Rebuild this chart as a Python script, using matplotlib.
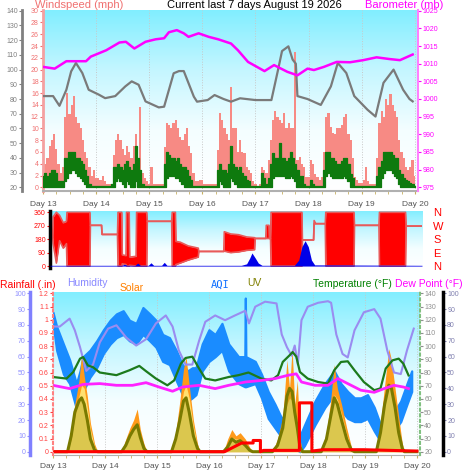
import numpy as np
import matplotlib
matplotlib.use('Agg')
import matplotlib.pyplot as plt
from matplotlib.colors import LinearSegmentedColormap
from matplotlib.ticker import MultipleLocator

plt.rcParams['font.family'] = ['Liberation Sans', 'DejaVu Sans']

# ---------------- data ----------------
days = [13, 14, 15, 16, 17, 18, 19, 20]
day_labels = ['Day 13', 'Day 14', 'Day 15', 'Day 16', 'Day 17', 'Day 18', 'Day 19', 'Day 20']

# top panel: hourly wind samples (mph), one row per day
wind_t = np.linspace(13, 20, 169)
gust = [3, 4, 5, 7, 8, 9, 6.5, 4, 2.5, 3.5, 12, 16, 12.5, 14, 15.5, 12, 11, 10, 8, 6, 5, 3.5, 2, 3,
        1.5, 1.5, 1.2, 2, 1, 0.5, 0.5, 0.5, 5.5, 8, 9, 8, 6.5, 5.5, 7, 6, 5, 7, 9, 5, 13.7, 2.5, 1.5, 1,
        0.5, 3.5, 0.5, 0.5, 0.5, 0.5, 0.5, 6.8, 11, 10.5, 10, 11, 11.5, 10, 8.5, 8, 9, 10, 7, 5.8, 2.4, 1, 1, 1.2,
        1.2, 0.6, 0.6, 0.6, 0.6, 0.6, 0.6, 6.3, 12.6, 11.5, 10, 9, 8, 17, 10, 10, 6, 8, 6, 5.8, 3.5, 3, 2.4, 1,
        0.5, 0.3, 0.5, 3.5, 3, 2.4, 4.6, 8, 11.4, 13, 12, 11.4, 11, 12.6, 10, 11, 10, 10, 23, 4.6, 5.2, 4, 3.5, 1.8,
        1.8, 4.6, 4, 2.3, 1.8, 1.2, 1.8, 6, 12, 12.6, 10.3, 9.2, 9, 10, 10, 10.5, 12, 12.5, 9, 8, 5, 1.8, 1.2, 0.7,
        0.7, 1.2, 3.5, 1, 0.6, 0.6, 0.6, 5, 10.9, 13, 12, 15, 14, 15.8, 14, 13, 12, 8, 6, 5, 3.5, 2.9, 3.5, 4.6,
        2]
wind_hi = [2, 2.5, 2, 2.5, 3, 3, 2.5, 1, 1, 1, 5, 5, 6, 6, 6, 5, 5, 4.5, 4, 3, 2, 0.5, 0.3, 0.3,
           0.2, 0.2, 0.2, 0.2, 0.2, 0.2, 0.2, 0.5, 3.5, 3.5, 4, 3.5, 3, 4, 4.5, 3.5, 3, 4, 7, 5, 3, 0.5, 0.2, 0.2,
           0.2, 0.2, 0.2, 0.2, 0.2, 0.2, 0.2, 4, 6, 5.5, 5, 5, 4.5, 5, 4, 3.5, 3.5, 3, 2, 1.2, 0.2, 0.2, 0.2, 0.2,
           0.2, 0.2, 0.2, 0.2, 0.2, 0.2, 0.2, 3, 4, 3, 3, 2.5, 4, 7, 4, 3.5, 3, 3.5, 2.5, 2, 1.2, 1, 0.3, 0.2,
           0.2, 0.2, 0.2, 2.4, 1.5, 0.6, 1.5, 4, 5.8, 5, 5, 7.5, 5, 5, 4.5, 5, 6, 5, 4, 3, 2, 2, 0.5, 0.2,
           0.2, 1.2, 0.5, 0.2, 0.2, 0.2, 0.2, 3, 6, 6, 5, 5, 4.5, 4, 4, 4.5, 5, 5, 4, 2.3, 1.5, 0.2, 0.2, 0.2,
           0.2, 0.2, 0.2, 0.2, 0.2, 0.2, 0.2, 2, 3.5, 4.5, 6, 6, 6, 6, 5.5, 5, 5, 3, 2.3, 1.5, 1.2, 1, 0.8, 0.5,
           0.2]
wind_lo = [0, 0, 0, 0, 0, 0, 0, 0, 0, 0, 1, 1.5, 2.5, 3, 3, 2.5, 2, 1.5, 1, 0.5, 0, 0, 0, 0,
           0, 0, 0, 0, 0, 0, 0, 0, 0, 1, 1.5, 1, 0.5, 0, 1, 0.5, 0, 0, 1, 0, 0, 0, 0, 0,
           0, 0, 0, 0, 0, 0, 0, 0, 1.5, 2, 2, 2, 1.5, 1.5, 1, 0.5, 0, 0, 0, 0, 0, 0, 0, 0,
           0, 0, 0, 0, 0, 0, 0, 0, 1, 0.5, 0, 0, 0, 1.5, 1, 0.5, 0, 0, 0, 0, 0, 0, 0, 0,
           0, 0, 0, 0, 0, 0, 0, 0, 1.5, 2, 2, 2, 2, 2, 1.5, 1.5, 2, 1.5, 1, 0, 0, 0, 0, 0,
           0, 0, 0, 0, 0, 0, 0, 0, 2, 2.5, 2, 1.5, 1.5, 1.5, 1.5, 1.5, 2, 1.5, 1, 0, 0, 0, 0, 0,
           0, 0, 0, 0, 0, 0, 0, 0, 0, 1.5, 2.5, 3, 3, 3, 2.5, 2, 1.5, 0.5, 0, 0, 0, 0, 0, 0,
           0]

gray_t = [13.0, 13.19, 13.31, 13.44, 13.53, 13.62, 13.74, 13.86, 14.05, 14.17, 14.36, 14.55,
          14.67, 14.8, 14.93, 15.18, 15.28, 15.46, 15.56, 15.65, 15.84, 15.9, 16.1, 16.23,
          16.4, 16.54, 16.71, 17.0, 17.3, 17.42, 17.5, 17.62, 17.7, 17.76, 17.79, 17.98,
          18.23, 18.42, 18.55, 18.71, 18.86, 19.11, 19.26, 19.41, 19.6, 19.78, 19.9, 19.96]
gray_v = [82, 82, 75.4, 86.3, 98.8, 104.5, 97.7, 86.3, 83, 80.6, 82, 88.6,
          92, 89.7, 78.4, 74.3, 74.8, 97.5, 99, 99, 81.6, 78.2, 79.3, 82.7,
          80, 78.2, 80.5, 79.3, 79.3, 99, 112.6, 115.8, 106.8, 104, 82, 80,
          76, 88.6, 104.5, 97.7, 82, 72.7, 68.1, 91, 100, 86.3, 80, 78.4]

baro_t = [13.0, 13.22, 13.44, 13.81, 13.9, 14.19, 14.44, 14.56, 14.72, 14.93, 15.12, 15.28,
          15.37, 15.52, 15.65, 15.74, 15.93, 16.12, 16.3, 16.54, 16.67, 16.86, 17.17, 17.35,
          17.6, 17.79, 17.98, 18.1, 18.29, 18.53, 18.78, 19.03, 19.28, 19.53, 19.72, 19.96]
baro = [1009.1, 1008.6, 1010.7, 1010.7, 1012, 1013.8, 1016, 1016.2, 1014.3, 1016.2, 1016.9, 1017.2,
        1018.9, 1019.5, 1018.6, 1017.6, 1018.6, 1017.6, 1016.9, 1015.7, 1013.8, 1010.5, 1007.9, 1009.6,
        1007.7, 1006.7, 1008.6, 1008.2, 1009.1, 1010.5, 1010.4, 1011, 1011.8, 1011.3, 1011, 1012.6]

# middle panel: wind direction envelope (degrees)
dir_t = [13.00, 13.05, 13.06, 13.12, 13.18, 13.25, 13.31, 13.32, 13.75, 13.76, 13.97, 13.98,
         14.27, 14.28, 14.35, 14.36, 14.43, 14.44, 14.49, 14.50, 14.62, 14.63, 14.82, 14.83,
         15.29, 15.30, 15.36, 15.37, 15.45, 15.60, 15.79, 15.80, 16.27, 16.28, 16.40, 16.55,
         16.70, 16.85, 16.86, 17.06, 17.07, 17.12, 17.13, 17.15, 17.16, 17.74, 17.75, 17.96,
         17.97, 18.00, 18.18, 18.19, 18.72, 18.73, 19.19, 19.20, 19.69, 19.70, 20.0]
dir_lo = [196, 196, 150, 20, 170, 120, 150, 0, 0, 273, 273, 212,
          212, 0, 0, 15, 10, 0, 0, 5, 0, 0, 0, 300,
          300, 0, 0, 10, 20, 40, 60, 98, 98, 100, 90, 95,
          105, 110, 185, 185, 185, 185, 185, 185, 0, 0, 175, 175,
          284, 284, 284, 0, 0, 273, 273, 0, 0, 268, 268]
dir_hi = [196, 196, 330, 360, 340, 290, 300, 360, 360, 273, 273, 212,
          212, 360, 360, 75, 70, 360, 360, 60, 65, 360, 360, 300,
          300, 360, 360, 165, 160, 135, 120, 98, 98, 230, 215, 210,
          195, 190, 185, 185, 273, 273, 185, 185, 360, 360, 175, 175,
          305, 284, 284, 360, 360, 273, 273, 360, 360, 268, 268]
mblue_t = [13.0, 14.35, 14.4, 14.45, 14.6, 14.65, 14.7, 14.85, 14.9, 14.95, 15.1, 15.15, 15.2,
           16.6, 16.7, 16.76, 16.8, 16.86, 16.92, 16.99, 17.6, 17.68, 17.74, 17.8, 17.86, 17.92,
           17.98, 20.0]
mblue = [5, 5, 12, 5, 5, 20, 5, 5, 22, 5, 5, 25, 5,
         5, 15, 55, 88, 55, 20, 5, 5, 40, 130, 170, 130, 40,
         8, 5]
compass = ['N', 'E', 'S', 'W', 'N']

# bottom panel
hum_t = [13.0, 13.13, 13.32, 13.42, 13.52, 13.64, 13.77, 13.9, 14.06, 14.22, 14.41, 14.6,
         14.79, 14.98, 15.17, 15.3, 15.42, 15.55, 15.68, 15.81, 15.93, 16.12, 16.31, 16.5,
         16.7, 16.77, 16.89, 17.08, 17.3, 17.4, 17.5, 17.59, 17.65, 17.71, 17.78, 17.9,
         18.1, 18.29, 18.35, 18.45, 18.57, 18.67, 18.8, 18.98, 19.18, 19.3, 19.43, 19.56,
         19.69, 19.81, 19.94]
hum = [79, 79, 84, 76.6, 66, 51, 55, 69, 77.7, 79.8, 72, 67,
       71, 81, 86, 79, 64, 55, 55, 70, 82, 86, 83, 86,
       89, 81, 91.5, 94.7, 93.6, 74, 66, 60.6, 67, 55, 83, 91.5,
       94, 95, 94, 74, 61.7, 59.5, 76.6, 88, 90, 84, 64, 50,
       49, 64, 77.7]

temp_t = [13.0, 13.26, 13.39, 13.52, 13.58, 13.67, 13.77, 13.9, 14.22, 14.47, 14.66, 14.79,
          14.98, 15.2, 15.33, 15.46, 15.55, 15.68, 15.81, 15.93, 16.12, 16.38, 16.57, 16.76,
          17.01, 17.2, 17.33, 17.42, 17.55, 17.61, 17.68, 17.75, 17.9, 18.1, 18.29, 18.41,
          18.54, 18.67, 18.8, 18.98, 19.18, 19.3, 19.4, 19.53, 19.65, 19.74, 19.84]
temp = [76.6, 75.4, 80.4, 90.5, 91.7, 85.4, 84, 80, 78, 81.7, 85, 81,
        75.4, 70.3, 74, 86.7, 91, 92, 83, 75.4, 74, 76.6, 78, 80,
        75.4, 74, 78, 88, 93, 95.5, 92, 80.4, 75.4, 72.8, 71.6, 81.7,
        88, 88.5, 81.7, 72.8, 66.6, 68, 83, 89.2, 90.5, 86.7, 77.8]

dew_t = [13.0, 13.32, 13.58, 13.9, 14.22, 14.53, 14.79, 15.04, 15.3, 15.49, 15.81, 16.12,
         16.38, 16.7, 17.01, 17.27, 17.52, 17.68, 17.78, 18.04, 18.29, 18.48, 18.67, 18.92,
         19.18, 19.37, 19.56, 19.74, 19.84]
dew = [70.3, 67.8, 71, 71.6, 70.3, 70.3, 72.3, 69, 65.8, 69, 70.3, 67.8,
       70.3, 72.8, 74, 75.4, 77.9, 79, 72.8, 70.3, 70.3, 75.4, 71.6, 66.6,
       65, 67.8, 70.3, 69, 67.8]

aqi_t = [13.0, 13.07, 13.2, 13.32, 13.45, 13.52, 13.58, 13.71, 13.84, 13.97, 14.1, 14.22,
         14.35, 14.47, 14.6, 14.73, 14.86, 14.98, 15.11, 15.24, 15.37, 15.49, 15.59, 15.68,
         15.75, 15.87, 16.0, 16.12, 16.25, 16.38, 16.57, 16.69, 16.7, 16.71, 16.89, 17.01,
         17.14, 17.27, 17.4, 17.52, 17.65, 17.75, 17.84, 18.04, 18.23, 18.41, 18.54, 18.67,
         18.8, 18.92, 19.05, 19.18, 19.3, 19.43, 19.56, 19.69, 19.81, 19.9]
aqi_hi = [88, 79, 68, 58, 43, 51, 60, 64, 70, 77, 83, 87,
          89, 83, 81, 91, 87, 83, 74, 72, 64, 55, 51, 53,
          53, 68, 77, 74, 81, 68, 60, 60, 97, 60, 57, 49,
          38, 30, 21, 25, 15, 10, 17, 32, 43, 51, 43, 38,
          34, 34, 36, 28, 17, 19, 25, 32, 43, 51]
aqi_lo = [81, 64, 49, 43, 27, 30, 38, 47, 53, 62, 68, 72,
          74, 70, 68, 74, 70, 66, 57, 55, 45, 36, 32, 34,
          36, 51, 57, 60, 64, 51, 43, 41, 41, 41, 43, 34,
          21, 15, 9, 13, 2, 0, 4, 17, 28, 36, 26, 21,
          19, 19, 21, 13, 6.6, 9, 13, 19, 30, 38]

sol_t = [13.0, 13.28, 13.35, 13.42, 13.5, 13.55, 13.6, 13.66, 13.72, 13.8, 13.86,
         14.32, 14.4, 14.48, 14.55, 14.62, 14.68, 14.75, 14.81,
         15.28, 15.36, 15.44, 15.51, 15.56, 15.62, 15.7, 15.78, 15.83,
         16.28, 16.36, 16.44, 16.52, 16.6, 16.7, 16.78, 16.84,
         17.22, 17.32, 17.42, 17.5, 17.55, 17.6, 17.65, 17.7, 17.75, 17.8,
         18.16, 18.26, 18.34, 18.41, 18.47, 18.55, 18.65, 18.74, 18.8,
         19.22, 19.3, 19.38, 19.46, 19.51, 19.58, 19.65, 19.72, 19.76, 20.0]
solar_max = [0, 0, 12, 30, 45, 62, 48, 35, 18, 5, 0,
             0, 8, 15, 20, 27, 14, 5, 0,
             0, 12, 32, 52, 60, 42, 20, 5, 0,
             0, 8, 14, 10, 12, 8, 3, 0,
             0, 8, 22, 58, 40, 65, 30, 45, 8, 0,
             0, 12, 32, 55, 40, 30, 15, 3, 0,
             0, 18, 42, 65, 58, 40, 22, 5, 0, 0]
solar = [0, 0, 8, 22, 35, 42, 40, 28, 14, 3, 0,
         0, 5, 10, 14, 17, 10, 3, 0,
         0, 8, 24, 38, 42, 34, 16, 3, 0,
         0, 5, 9, 8, 8, 5, 2, 0,
         0, 5, 15, 30, 34, 32, 25, 18, 4, 0,
         0, 8, 24, 36, 33, 24, 11, 2, 0,
         0, 12, 30, 42, 40, 30, 15, 3, 0, 0]
uv = [0, 0, 10, 25, 32, 34, 30, 20, 8, 1, 0,
      0, 4, 10, 14, 17, 9, 2, 0,
      0, 8, 20, 32, 34, 25, 10, 2, 0,
      0, 3, 8, 6, 7, 4, 1, 0,
      0, 4, 15, 35, 40, 38, 25, 15, 3, 0,
      0, 8, 22, 34, 30, 20, 8, 1, 0,
      0, 12, 30, 42, 40, 28, 12, 2, 0, 0]

rain_t = [13.0, 16.3, 16.63, 16.85, 16.85, 16.99, 16.99, 17.05, 17.74, 17.74, 17.98, 17.98,
          18.2, 18.98, 20.0]
rain = [0, 0, 0.066, 0.066, 0.085, 0.085, 0.0, 0.01, 0.01, 0.37, 0.37, 0.005,
        0.015, 0.015, 0.005]

# ---------------- figure ----------------
W, H = 466, 473
PT = 72 / 100   # points per pixel
fig = plt.figure(figsize=(W / 100, H / 100), dpi=100)
fig.patch.set_facecolor('white')


def box(l, t, r, b):
    return fig.add_axes([l / W, 1 - b / H, (r - l) / W, (b - t) / H])


sky = LinearSegmentedColormap.from_list('sky', ['#ffffff', '#f4feff', '#c4f6ff', '#80eeff'])


def backdrop(ax):
    ax.imshow(np.linspace(0, 1, 256).reshape(-1, 1), cmap=sky, origin='lower', aspect='auto',
              extent=[0, 1, 0, 1], transform=ax.transAxes, zorder=0)


def only_spines(ax, keep):
    for s in ['left', 'right', 'top', 'bottom']:
        ax.spines[s].set_visible(s in keep)


# ---- top panel ----
ax = box(43, 10, 418, 191)
backdrop(ax)
for d in days:
    ax.axvline(d, color='#c8c8c8', ls=':', lw=0.7, zorder=1)
ax.fill_between(wind_t, wind_lo, gust, step='mid', color='#f78a84', lw=0, zorder=2)
ax.fill_between(wind_t, wind_lo, wind_hi, step='mid', color='#0e7a0e', lw=0.9,
                edgecolor='#0e7a0e', zorder=3)
ax_o = ax.twinx()
ax_o.plot(gray_t, gray_v, color='#7a7a7a', lw=1.6)
ax_b = ax.twinx()
ax_b.plot(baro_t, baro, color='#ff00ff', lw=1.8)

ax.set_xlim(13, 20.06)
ax.set_ylim(-0.63, 30.12)
ax_o.set_ylim(17.5, 140.5)
ax_b.set_ylim(973.95, 1025.2)
ax.yaxis.tick_left()
ax.set_yticks(range(0, 31, 2))
ax.tick_params(axis='y', labelsize=5, colors='#f07070', length=2, pad=1)
ax.set_xticks(days, day_labels)
ax.xaxis.set_minor_locator(MultipleLocator(0.25))
ax.tick_params(axis='x', which='both', labelsize=6, colors='#c8b060', length=2, pad=5)
for lb in ax.get_xticklabels():
    lb.set_color('#555555')
only_spines(ax, ['left', 'bottom'])
ax.spines['left'].set_color('#f4a0a0')
ax.spines['left'].set_linewidth(2)
ax.spines['bottom'].set_color('#b0b0b0')
ax.spines['bottom'].set_linewidth(1.5)

ax_o.yaxis.tick_left()
ax_o.spines['left'].set_position(('outward', 21 * PT))
only_spines(ax_o, ['left'])
ax_o.spines['left'].set_color('#808080')
ax_o.spines['left'].set_linewidth(2)
ax_o.set_yticks(range(20, 141, 10))
ax_o.tick_params(axis='y', labelsize=5, colors='#808080', length=2, pad=1)

only_spines(ax_b, ['right'])
ax_b.spines['right'].set_color('#ff80ff')
ax_b.spines['right'].set_linewidth(1.5)
ax_b.set_yticks(range(975, 1026, 5))
ax_b.tick_params(axis='y', labelsize=5, colors='#ff00ff', length=2, pad=1)

fig.text(35 / W, 1 - 8 / H, 'Windspeed (mph)', color='#f07070', fontsize=8, va='baseline')
fig.text(254 / W, 1 - 8 / H, 'Current last 7 days August 19 2026', color='black', fontsize=8,
         va='baseline', ha='center')
fig.text(443 / W, 1 - 8 / H, 'Barometer (mb)', color='#ff00ff', fontsize=8, va='baseline', ha='right')

# ---- middle panel ----
axm = box(50, 211, 422, 268)
backdrop(axm)
axm.fill_between(dir_t, dir_lo, dir_hi, color='#ff0000', lw=0, zorder=2)
axm.plot(dir_t, dir_hi, color='#e85a5a', lw=1.2, zorder=2)
axm.plot(dir_t, dir_lo, color='#e85a5a', lw=1.2, zorder=2)
axm.fill_between(mblue_t, 0, mblue, color='#0000e8', lw=0, zorder=3)
axm.set_xlim(13, 20.0)
axm.set_ylim(-13, 369)
axm.set_yticks([0, 90, 180, 270, 360])
axm.set_xticks([])
axm.tick_params(axis='y', labelsize=5, colors='#ff0000', length=2, pad=1)
only_spines(axm, ['left'])
axm.spines['left'].set_color('black')
axm.spines['left'].set_linewidth(2.5)
axc = axm.twinx()
axc.set_ylim(-13, 369)
axc.set_yticks([0, 90, 180, 270, 360], compass)
axc.tick_params(axis='y', labelsize=8, colors='#ff0000', length=0, pad=8)
only_spines(axc, [])

# ---- legend row ----
fig.text(0 / W, 1 - 288 / H, 'Rainfall (.in)', color='#ff0000', fontsize=7.5, va='baseline')
fig.text(67 / W, 1 - 286 / H, 'Humidity', color='#8888ff', fontsize=7.5, va='baseline')
fig.text(120 / W, 1 - 291 / H, 'Solar', color='#ff8000', fontsize=7.5, va='baseline')
fig.text(211 / W, 1 - 288 / H, 'AQI', color='#1070ff', fontsize=7.5, va='baseline',
         family='DejaVu Sans Mono')
fig.text(247 / W, 1 - 286 / H, 'UV', color='#808000', fontsize=7.5, va='baseline')
fig.text(313 / W, 1 - 287 / H, 'Temperature (°F)', color='#008000', fontsize=7.5, va='baseline')
fig.text(395 / W, 1 - 287 / H, 'Dew Point (°F)', color='#ff00ff', fontsize=7.5, va='baseline')

# ---- bottom panel ----
ax_q = box(53, 292, 420, 455)          # AQI, far right 0-100
backdrop(ax_q)
for d in days:
    ax_q.axvline(d, color='#c8c8c8', ls=':', lw=0.7, zorder=1)
ax_q.fill_between(aqi_t, aqi_lo, aqi_hi, color='#1a8cff', lw=1.6, edgecolor='#1a8cff', zorder=2)
ax_h = ax_q.twinx()                    # humidity / solar / uv, left 0-100
ax_h.fill_between(sol_t, 0, solar_max, color='#ff9a1a', lw=0)
ax_h.fill_between(sol_t, 0, solar, color='#ffe070', lw=0)
ax_h.fill_between(sol_t, 0, uv, color='#9a9a10', alpha=0.35, lw=0)
ax_h.plot(sol_t, uv, color='#7a7a00', lw=2.2)
ax_h.plot(hum_t, hum, color='#9a8cf0', lw=1.5)
ax_t = ax_q.twinx()                    # temperature, right 20-140
ax_t.plot(temp_t, temp, color='#1c7a1c', lw=1.6)
ax_t.plot(dew_t, dew, color='#ff22ff', lw=2.0)
ax_r = ax_q.twinx()                    # rainfall, left 0-1.2
ax_r.plot(rain_t, rain, color='#ff0000', lw=2.2)

ax_q.set_xlim(13, 20.06)
ax_q.set_ylim(-2.08, 100.8)
ax_h.set_ylim(-2.08, 100.8)
ax_t.set_ylim(17.5, 141)
ax_r.set_ylim(-0.025, 1.21)

ax_q.yaxis.tick_right()
ax_q.spines['right'].set_position(('outward', 23 * PT))
only_spines(ax_q, ['right', 'bottom'])
ax_q.spines['right'].set_color('black')
ax_q.spines['right'].set_linewidth(2.5)
ax_q.spines['bottom'].set_color('#b0b0b0')
ax_q.set_yticks(range(0, 101, 10))
ax_q.tick_params(axis='y', labelsize=5, colors='#8080b0', length=2, pad=1)
ax_q.set_xticks(days, day_labels)
ax_q.xaxis.set_minor_locator(MultipleLocator(0.25))
ax_q.tick_params(axis='x', which='both', labelsize=6, colors='#c8b060', length=2, pad=4)
for lb in ax_q.get_xticklabels():
    lb.set_color('#555555')

ax_h.yaxis.tick_left()
ax_h.spines['left'].set_position(('outward', 23 * PT))
only_spines(ax_h, ['left'])
ax_h.spines['left'].set_color('#8080ff')
ax_h.spines['left'].set_linewidth(2.5)
ax_h.set_yticks(range(0, 101, 10))
ax_h.tick_params(axis='y', labelsize=5, colors='#9090ff', length=2, pad=1)

only_spines(ax_t, ['right'])
ax_t.spines['right'].set_color('#80c080')
ax_t.spines['right'].set_linewidth(1.5)
ax_t.spines['right'].set_linestyle(':')
ax_t.set_yticks(range(20, 141, 10))
ax_t.tick_params(axis='y', labelsize=5, colors='#909090', length=2, pad=1)

ax_r.yaxis.tick_left()
only_spines(ax_r, ['left'])
ax_r.spines['left'].set_color('#ff8080')
ax_r.spines['left'].set_linewidth(1.5)
ax_r.spines['left'].set_linestyle(':')
ax_r.set_yticks(np.round(np.arange(0, 1.21, 0.1), 1), ['0', '0.1', '0.2', '0.3', '0.4', '0.5', '0.6',
                                                       '0.7', '0.8', '0.9', '1', '1.1', '1.2'])
ax_r.tick_params(axis='y', labelsize=5, colors='#ff4040', length=2, pad=1)

fig.savefig('out.png', dpi=100, facecolor='white')
